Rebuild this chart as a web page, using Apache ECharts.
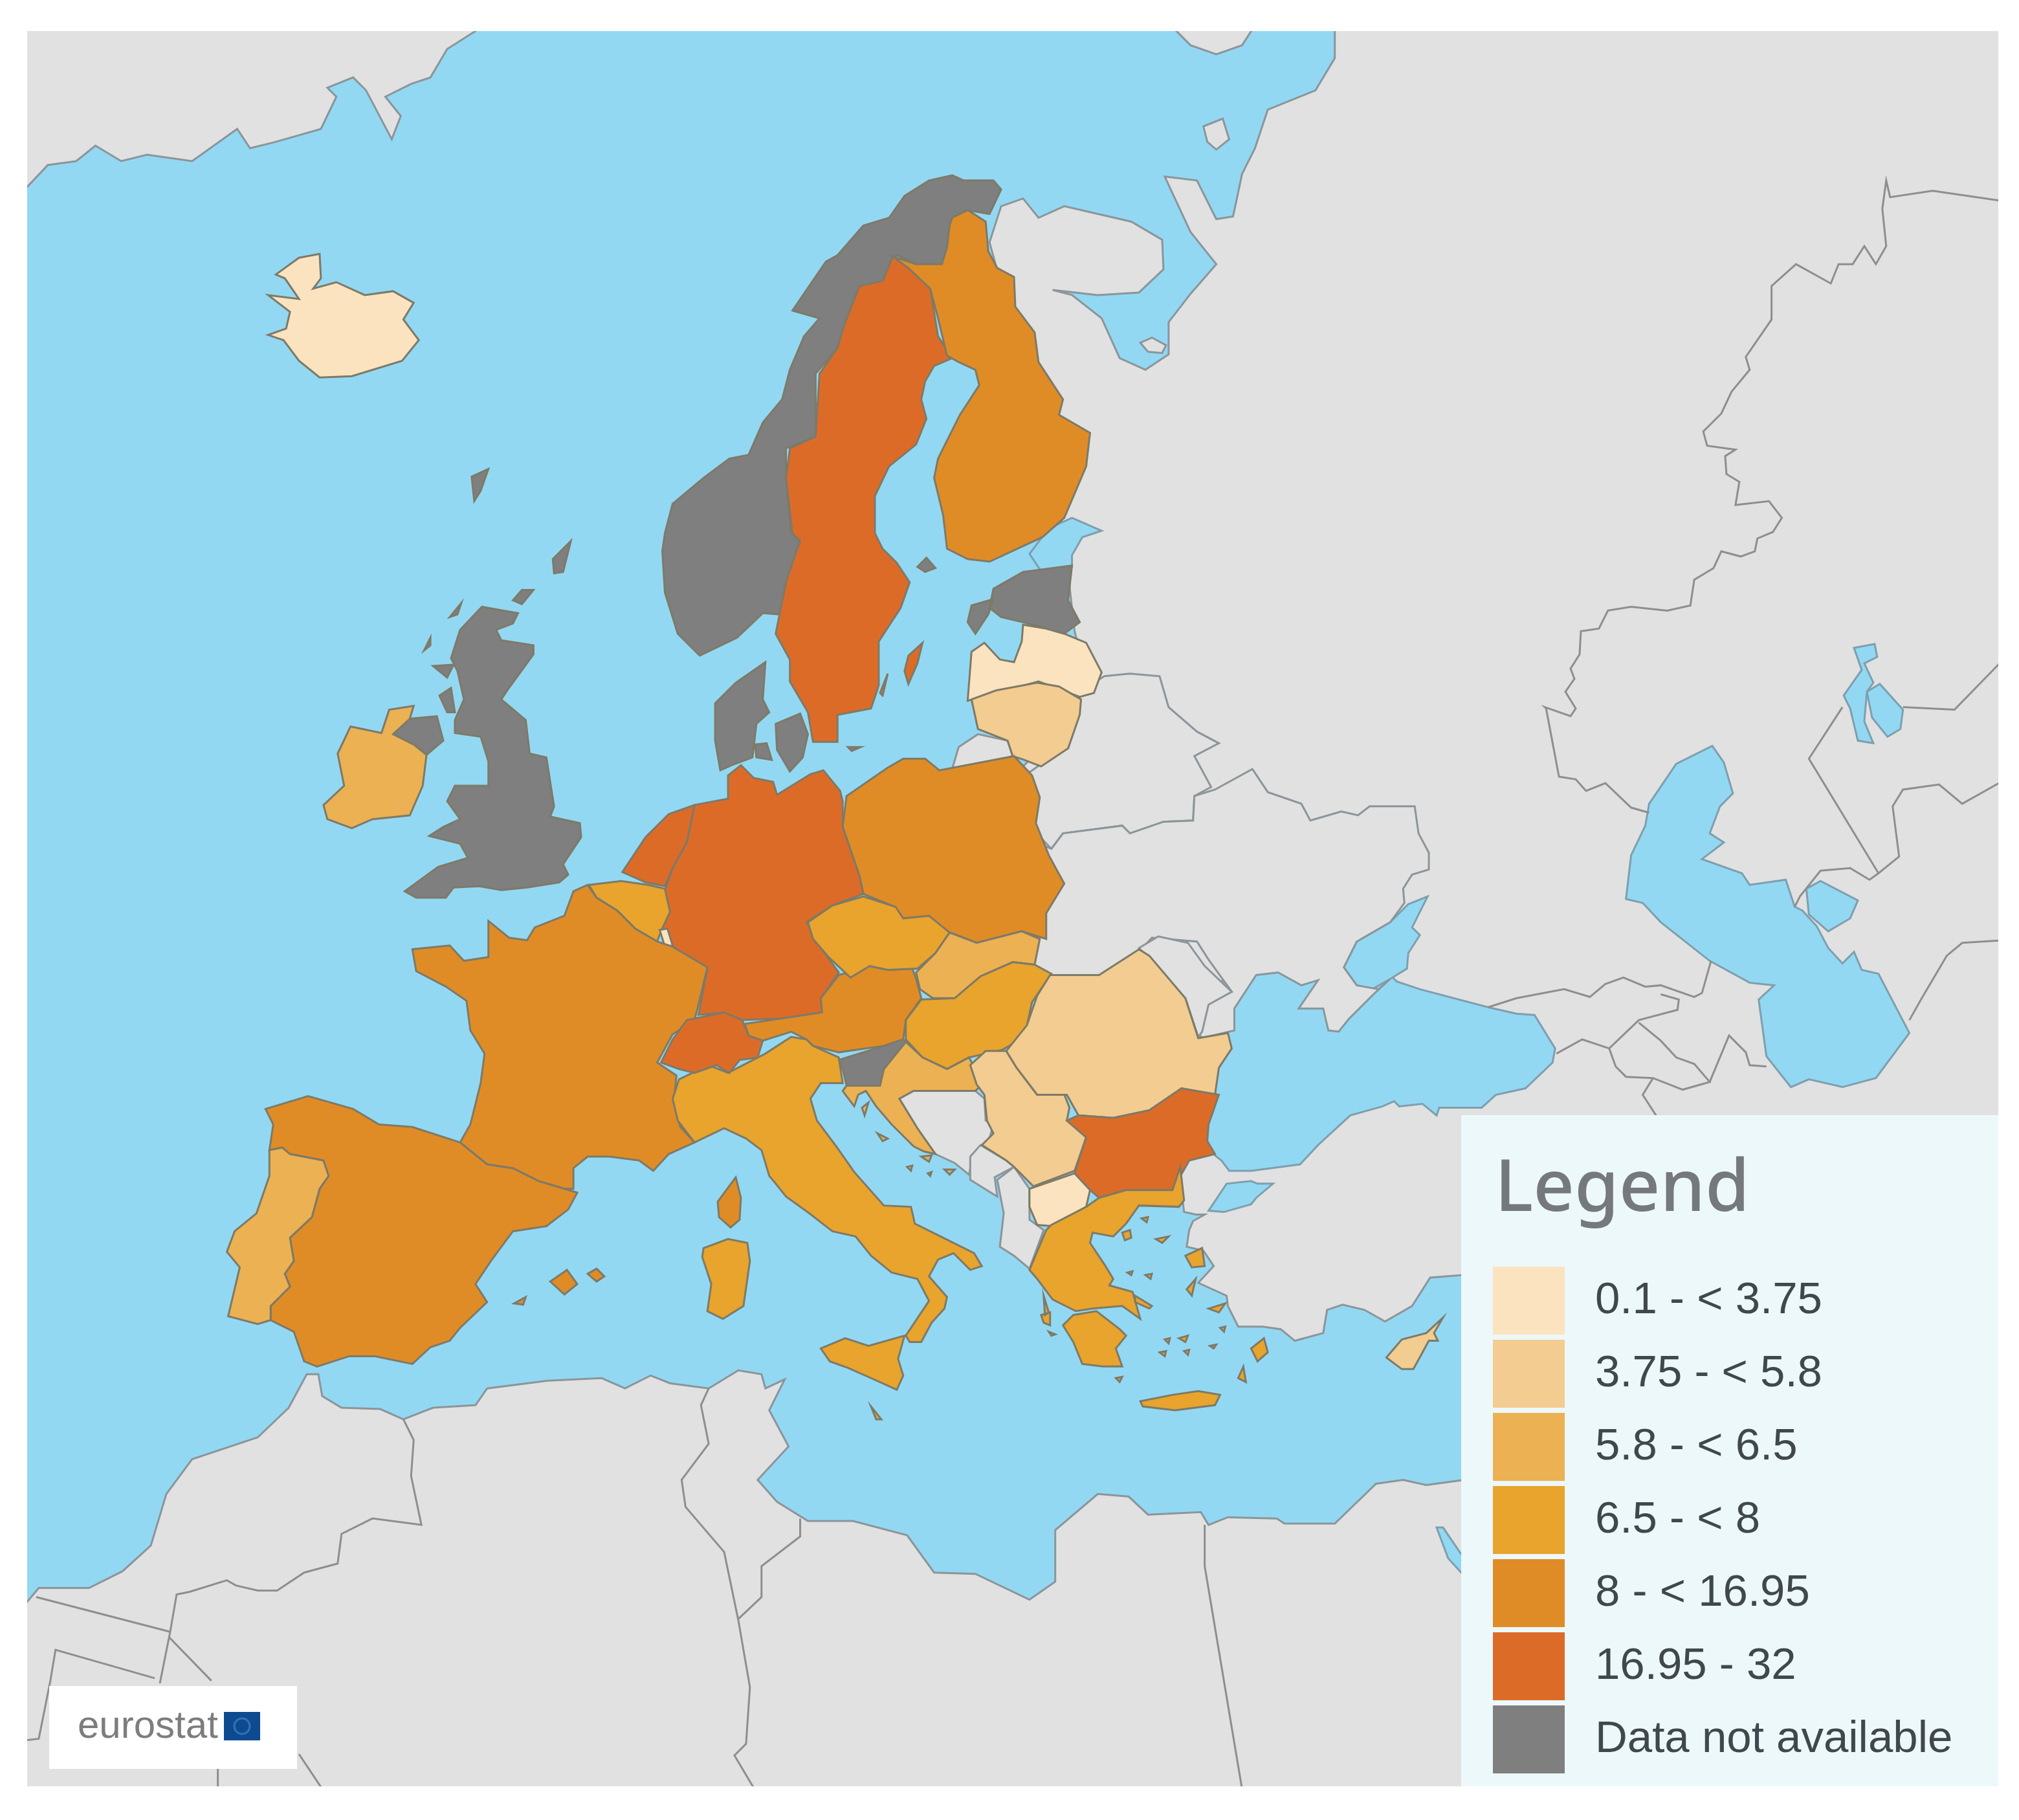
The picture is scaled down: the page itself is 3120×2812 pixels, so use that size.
<!DOCTYPE html>
<html>
<head>
<meta charset="utf-8">
<title>Eurostat map</title>
<style>html,body{margin:0;padding:0;background:#fff}#chart{width:3120px;height:2812px}</style>
<script src="https://cdn.jsdelivr.net/npm/echarts@6/dist/echarts.min.js"></script>
</head>
<body>
<div id="chart"></div>
<script>
// values per country, estimated from the class each one is coloured with
const countries = ['Iceland','Ireland','Sweden','Finland','Latvia','Lithuania','Germany','Netherlands','Belgium','Luxembourg','France','Spain','Portugal','Switzerland','Italy','Austria','Czechia','Slovakia','Hungary','Poland','Croatia','Romania','Serbia','Bulgaria','North Macedonia','Greece','Cyprus','Malta'];
const rates = [2.5,6.1,28,12,2.5,4.5,22,18,7,1.5,10.5,11,6,19,7.2,12,7,6.2,7.4,9.5,6.1,5,4.5,17.5,0.5,7.5,5,7];
const noData = ['Norway','United Kingdom','Denmark','Estonia','Slovenia','Aland'];
const noDataCode = 999;

const legendLabels = ['0.1 - < 3.75','3.75 - < 5.8','5.8 - < 6.5','6.5 - < 8','8 - < 16.95','16.95 - 32','Data not available'];
const legendFrom = [0.1,3.75,5.8,6.5,8,16.95];
const legendTo = [3.75,5.8,6.5,8,16.95,32];
const legendColors = ['#fbe3bf','#f2cc90','#ecb152','#e8a42c','#e08c26','#dd6b28','#7f7f7f'];

// outlines, in the coordinates of the source picture at half size
const seas = {
    'Sea': ['15,15 1560,15 1560,1395 15,1395'],
    'Black Sea': ['965,750 1030,745 1075,752 1085,762 1103,768 1156,782 1178,787 1192,788 1208,814 1206,825 1185,845 1162,850 1151,860 1118,860 1116,866 1105,857 1087,859 1083,855 1074,859 1049,866 1024,889 1010,904 972,909 955,909 949,901 935,890 930,850 945,800 950,760'],
    'Azov': ['1109,696 1097,720 1103,726 1094,740 1093,752 1080,760 1066,768 1054,765 1044,751 1054,731 1080,716 1094,702'],
    'Caspian': ['1330,579 1339,592 1346,616 1336,626 1328,647 1339,654 1322,667 1353,678 1359,687 1387,683 1394,704 1400,707 1411,719 1420,736 1431,748 1440,739 1446,753 1459,756 1483,802 1457,837 1431,844 1405,838 1391,844 1372,820 1366,776 1378,765 1359,763 1328,746 1290,716 1276,701 1263,698 1267,664 1278,641 1281,624 1302,593'],
    'Kara-Bogaz': ['1403,690 1414,684 1443,699 1437,713 1420,723 1405,710'],
    'Aral': ['1450,537 1460,531 1478,551 1476,566 1466,572 1454,557','1440,503 1456,500 1458,510 1448,515 1455,530 1450,537 1448,560 1455,577 1443,575 1437,550 1432,540 1446,520'],
    'Marmara': ['939,940 953,919 972,917 977,919 989,919 976,930 972,935 951,941'],
    'Gulf of Finland': ['815,410 833,402 856,412 841,417 833,431 833,440 810,445 800,430'],
    'Red Sea': ['1116,1186 1121,1186 1136,1208 1136,1222 1125,1210']
};
const lands = {
    'Greenland': ['15,15 370,15 370,24 348,38 335,60 320,65 300,75 312,90 305,108 285,70 275,60 255,68 262,75 250,100 215,110 195,115 185,100 150,125 115,120 95,125 75,113 60,125 38,128 22,145 15,150'],
    'Novaya Zemlya': ['905,15 978,15 965,35 945,42 925,35'],
    'East': ['1037,15 1560,15 1560,1395 1136,1395 1136,990 1111,992 1097,1014 1076,1026 1060,1017 1043,1013 1031,1017 1028,1035 1006,1041 995,1032 981,1030 962,1030 954,1014 953,1006 931,996 943,983 935,971 922,968 924,955 927,948 936,943 929,943 920,941 915,900 930,885 900,850 850,800 800,755 800,720 790,600 820,570 845,530 835,490 830,445 825,405 800,300 775,210 769,188 778,160 795,154 807,169 827,160 879,172 903,186 904,209 885,227 853,229 818,225 833,229 856,247 870,278 890,287 908,275 908,250 925,228 945,205 925,180 905,137 930,140 945,170 958,168 965,135 975,115 985,85 1022,70 1037,45'],
    'Africa': ['15,1252 31,1233 70,1233 96,1220 118,1200 130,1160 150,1133 201,1116 225,1093 239,1067 248,1067 251,1084 266,1093 296,1094 314,1102 337,1093 370,1091 379,1078 426,1072 468,1070 486,1078 506,1068 521,1074 551,1078 574,1064 592,1067 595,1078 610,1071 598,1095 613,1123 589,1149 604,1166 628,1181 663,1181 705,1192 726,1221 758,1222 800,1242 820,1228 820,1188 853,1160 877,1162 892,1176 933,1174 939,1184 954,1178 992,1179 998,1183 1037,1183 1069,1152 1090,1149 1108,1153 1130,1150 1145,1148 1145,1395 15,1395'],
    'Kolguev': ['935,98 950,92 955,108 945,116 938,110'],
    'Solovetsky': ['886,266 895,262 906,268 903,274 892,273'],
    'Belarus': ['858,525 878,523 901,525 908,549 930,568 947,577 928,587 941,611 928,618 927,637 904,638 878,647 872,641 826,647 817,659 800,641 800,620 798,601 825,582 835,555 835,545 850,530'],
    'Ukraine': ['817,659 826,647 872,641 878,647 904,638 927,637 928,618 944,613 973,597 985,615 1011,624 1018,637 1042,630 1055,633 1064,626 1099,626 1102,647 1110,662 1110,675 1097,679 1090,690 1091,701 1080,716 1054,731 1044,751 1054,765 1071,768 1080,760 1068,771 1048,791 1040,801 1032,800 1028,783 1009,783 1024,761 1011,765 993,755 976,757 959,783 959,800 934,806 930,800 937,777 957,770 939,745 930,731 895,728 884,740 858,760 815,760 800,751 805,728 820,687 810,656'],
    'Moldova': ['885,736 900,727 923,732 936,750 957,770 939,780 934,801 931,805 921,775'],
    'Kaliningrad': ['745,580 760,570 783,575 787,587 770,592 740,597'],
    'Bosnia': ['699,853 710,847 730,847 758,847 765,853 766,870 772,873 768,887 756,899 753,912 742,903 727,896 713,876'],
    'Montenegro': ['754,898 762,889 782,901 788,906 773,914 775,929 754,916'],
    'Albania': ['775,916 788,906 800,923 800,947 811,955 800,985 788,975 777,968 780,942']
};
// frontiers between grey countries, drawn as open lines
const frontiers = [
    '1556,156 1501,148 1468,153 1465,140 1462,162 1465,191 1457,205 1448,191 1439,205 1428,205 1422,220 1395,205 1376,222 1376,248 1356,277 1359,287 1345,304 1337,321 1323,335 1326,346 1348,349 1340,354 1341,368 1351,374 1348,392 1374,389 1384,402 1377,413 1365,418 1363,428 1352,432 1337,428 1331,441 1316,450 1313,470 1295,474 1267,471 1249,474 1242,488 1228,490 1227,508 1220,519 1223,527 1216,537 1224,550 1220,556 1200,549 1201,550 1211,603 1224,605 1232,614 1247,608 1267,627 1281,631',
    '1431,549 1405,589 1459,678',
    '1478,549 1518,551 1551,517 1556,512',
    '1394,704 1398,696 1414,676 1437,674 1452,683 1459,678 1475,665 1470,626 1478,613 1506,609 1524,624 1556,606',
    '1483,792 1492,776 1512,742 1524,732 1556,730',
    '1156,782 1178,775 1215,768 1235,774 1247,764 1261,759 1278,766 1290,765 1316,774 1322,771 1329,746',
    '1209,818 1229,807 1250,814 1273,792 1303,784 1304,776 1290,772',
    '1250,814 1255,828 1263,836 1284,837 1307,846 1328,840 1316,826 1302,821 1290,808 1273,794',
    '1328,840 1343,804 1356,817 1359,827 1372,828',
    '1284,837 1276,850 1287,867',
    '314,1102 322,1118 320,1146 328,1184 290,1179 266,1191 263,1214 237,1221 216,1235 201,1235 184,1231 177,1227 148,1236 138,1238 133,1267 125,1307',
    '29,1240 133,1267',
    '132,1271 165,1305',
    '15,1352 31,1350 40,1305 44,1281 121,1303',
    '170,1365 170,1395',
    '233,1362 255,1395',
    '551,1078 545,1091 551,1121 530,1149 533,1170 563,1205 574,1258 583,1310 580,1354 571,1363 590,1395',
    '622,1179 622,1193 592,1216 592,1240 574,1257',
    '936,1184 936,1216 966,1395'
];
const shapes = {
    'Iceland': ['209,229 233,232 222,216 215,213 233,200 249,197 250,216 244,224 262,219 284,229 306,226 322,235 314,248 326,264 313,280 274,292 249,293 233,280 221,264 209,260 223,255 226,242'],
    'Norway': ['517,414 523,391 547,371 567,356 582,353 593,328 608,310 614,287 625,261 637,247 616,241 642,203 651,198 671,175 691,169 703,152 722,140 740,136 749,140 772,140 778,147 769,166 751,163 738,175 736,192 732,205 712,205 697,198 686,218 668,222 657,250 651,270 634,290 634,339 611,348 611,371 615,414 622,420 618,431 611,452 606,477 593,476 573,495 544,509 527,492 517,460 515,428'],
    'Sweden': ['694,199 686,218 668,222 657,250 651,270 637,290 634,339 614,348 611,371 616,414 622,420 618,431 611,452 606,477 603,492 614,512 614,529 628,553 632,576 651,576 651,555 677,550 683,532 683,498 700,472 707,452 697,437 686,426 680,414 680,385 691,362 712,345 720,325 716,310 719,296 726,284 740,278 729,261 723,224 706,208','706,509 717,499 713,515 706,531 703,521','690,523 684,538 686,540'],
    'Finland': ['740,169 752,163 766,172 768,195 775,208 788,215 789,238 804,258 807,281 826,310 823,322 847,336 844,362 827,402 810,417 769,436 752,434 736,426 733,400 726,371 729,356 746,322 761,299 758,287 745,281 736,276 729,247 723,224 706,208 694,199 712,205 732,205 736,192 738,175'],
    'Aland': ['713,440 720,433 727,441 719,444'],
    'Estonia': ['772,457 795,444 833,439 830,466 839,483 827,492 813,488 795,483 778,479 769,472','755,470 772,465 768,477 758,492 752,483'],
    'Latvia': ['755,506 765,499 777,512 788,514 794,498 795,485 813,488 827,492 844,499 856,522 850,538 839,541 807,529 778,537 752,544'],
    'Lithuania': ['755,543 774,536 806,530 823,533 840,543 839,555 830,581 809,595 796,590 787,587 783,575 760,566'],
    'Denmark': ['556,575 556,546 572,530 595,514 593,543 598,553 588,562 585,588 569,594 560,598','603,562 622,554 628,570 624,588 614,599 604,582','587,578 596,577 600,590 588,588','659,580 669,580 662,583'],
    'United Kingdom': ['375,471 403,476 399,484 386,489 390,497 415,501 415,508 396,534 390,543 409,559 412,585 425,588 431,626 428,634 451,639 452,650 438,671 442,679 435,685 410,689 390,691 373,688 353,689 347,697 324,697 315,692 341,673 364,666 358,655 334,649 345,642 358,636 348,622 354,610 380,610 380,591 374,572 354,569 354,559 361,543 356,521 351,511 358,489','306,570 319,558 340,556 345,575 332,586 322,578','350,479 359,468 356,477','330,505 335,495 335,501','430,434 444,420 438,444 431,445','399,466 406,458 415,458 406,469','367,370 380,364 374,381 369,389','337,517 353,516 348,526','342,540 351,534 354,553 348,553'],
    'Ireland': ['252,625 268,610 263,585 273,564 297,569 303,551 322,548 319,558 306,570 322,578 332,586 329,610 319,633 290,636 274,643 255,636'],
    'Poland': ['658,618 690,596 702,589 719,589 730,598 788,587 802,602 808,619 805,639 815,664 827,686 813,709 813,729 794,723 759,732 736,723 722,711 702,713 693,703 671,694 668,680 655,642'],
    'Germany': ['566,602 576,594 586,604 601,607 604,617 630,601 640,598 653,614 655,622 655,642 668,680 671,694 647,703 627,716 641,740 652,755 638,775 639,786 606,791 577,792 563,786 543,788 550,752 530,740 520,732 514,723 514,700 523,674 534,654 540,625 566,620'],
    'Netherlands': ['484,677 502,650 520,632 540,625 534,654 523,674 517,688 502,685'],
    'Belgium': ['458,687 483,684 504,687 517,690 521,708 514,723 511,731 494,721 480,707 464,697'],
    'Luxembourg': ['513,722 519,721 523,734 517,735'],
    'France': ['446,692 457,687 464,697 480,707 494,721 511,731 523,735 550,751 543,780 540,792 523,803 511,825 526,835 524,855 529,875 540,887 520,896 508,909 497,901 474,898 457,898 446,907 446,923 439,923 419,917 399,907 379,904 358,887 366,873 374,841 377,818 366,800 363,777 347,766 324,754 321,737 350,734 361,746 380,743 380,715 396,728 410,730 416,720 439,711','558,933 572,914 576,930 575,947 568,953 559,945'],
    'Spain': ['207,861 240,851 275,861 295,873 321,875 358,887 379,904 399,907 419,917 439,923 449,926 442,939 425,952 399,956 382,979 370,997 379,1011 358,1031 350,1041 335,1046 321,1059 292,1053 272,1053 247,1061 237,1057 229,1034 211,1025 211,1014 226,999 222,989 229,979 226,961 243,945 249,923 256,913 252,901 226,896 220,891 210,893 213,873','428,995 441,986 449,997 439,1005','457,989 464,985 470,991 464,995','400,1012 409,1007 407,1013'],
    'Portugal': ['210,893 220,891 226,896 252,901 256,913 249,923 243,945 226,961 229,979 222,989 226,999 211,1014 211,1025 201,1028 178,1022 187,984 177,972 183,956 200,942 210,913'],
    'Italy': ['528,838 551,827 566,833 595,818 615,805 627,807 632,812 652,821 655,841 638,841 630,853 635,870 650,890 664,910 687,936 708,937 711,950 731,960 757,973 763,983 754,986 741,973 729,978 722,991 736,1007 734,1016 724,1027 716,1042 707,1042 704,1037 722,1010 713,993 693,988 677,975 665,960 647,956 629,942 611,929 603,919 598,913 592,893 580,884 563,876 540,887 527,870 523,853','638,1047 657,1039 675,1045 703,1037 698,1055 702,1068 697,1079 677,1070 659,1062 645,1057','547,969 566,962 581,965 583,979 578,1014 562,1024 550,1018 553,997 546,976'],
    'Switzerland': ['514,825 523,807 534,792 563,786 577,792 582,804 593,808 589,821 575,823 567,833 557,827 540,833 528,830'],
    'Austria': ['652,757 676,750 690,753 709,752 712,760 716,775 704,792 702,807 687,812 652,817 632,812 627,807 615,801 593,808 582,804 579,795 606,791 639,786 638,775'],
    'Czechia': ['628,716 647,703 671,696 696,704 702,713 722,711 738,724 727,740 713,752 690,753 676,750 661,759 644,743 632,729'],
    'Slovakia': ['738,724 759,732 794,723 808,729 804,749 787,747 762,758 742,775 725,775 715,768 712,755 727,740'],
    'Hungary': ['716,776 742,775 762,758 787,747 804,749 817,756 802,778 797,801 788,810 779,815 753,821 736,830 717,821 704,807 704,792'],
    'Slovenia': ['652,823 687,812 702,807 704,809 687,830 684,843 658,843 655,830'],
    'Croatia': ['687,830 704,809 717,821 736,830 753,821 764,841 758,847 730,847 710,847 699,853 713,876 727,896 718,894 710,890 693,873 681,859 673,847 667,850 664,859 655,847 658,843 684,843','670,860 675,856 672,866','682,880 690,884 686,886','716,898 724,897 722,902','734,908 742,908 738,912','705,906 709,905 708,909','721,911 724,910 723,913'],
    'Serbia': ['754,827 766,816 782,816 790,829 806,850 826,847 831,860 829,870 844,883 835,909 803,921 788,906 782,901 763,889 772,880 767,870 765,850 759,842'],
    'Romania': ['816,757 854,757 885,737 893,742 921,775 931,806 954,802 957,814 947,829 944,850 918,845 893,862 865,868 838,866 829,850 806,850 790,829 782,816 798,796 806,773'],
    'Bulgaria': ['829,870 838,866 865,868 893,862 918,845 947,850 939,873 938,886 944,896 924,901 911,924 875,924 854,930 847,924 835,911 844,883'],
    'North Macedonia': ['800,923 835,911 847,924 844,937 818,952 806,951 800,937'],
    'Greece': ['800,986 813,955 817,951 844,937 854,930 875,924 911,924 917,906 920,932 916,937 885,936 875,950 865,960 849,957 847,965 859,983 865,993 862,998 880,1003 886,1024 872,1014 849,1016 836,1018 818,1009 806,993','826,1029 834,1021 852,1018 870,1032 875,1037 867,1047 872,1061 857,1061 841,1059 834,1042','886,1088 911,1083 931,1080 948,1083 944,1091 913,1095 888,1092','921,975 934,969 936,983 926,984','922,1001 929,993 926,1006','939,1016 952,1012 947,1019','972,1047 982,1039 985,1050 977,1057','962,1070 966,1061 968,1073','872,957 878,955 879,961 874,963','887,946 892,945 891,949','898,962 908,960 903,965','811,1006 815,1019 812,1021','809,1021 816,1019 816,1029 811,1027','815,1034 820,1036 817,1037','882,1006 895,1014 893,1016 882,1011','901,1050 906,1049 905,1053','916,1039 923,1037 921,1042','920,1049 924,1048 923,1052','905,1040 909,1039 908,1043','867,1070 872,1069 870,1073','940,1045 945,1044 943,1047','948,1031 952,1030 951,1034','890,990 895,989 894,993','876,988 880,987 879,990'],
    'Cyprus': ['1077,1054 1089,1040 1108,1035 1121,1023 1114,1035 1117,1041 1110,1041 1098,1063 1089,1063'],
    'Malta': ['677,1092 685,1102 681,1102']
};

const ring = s => s.trim().split(/\s+/).map(p => p.split(',').map(Number));
const feature = (name, rings) => ({
    type: 'Feature',
    properties: { name: name },
    geometry: { type: 'MultiPolygon', coordinates: rings.map(r => [r]) }
});
// an open line is a polygon that walks back along itself
const lineRing = s => { const r = ring(s); return r.concat(r.slice().reverse()); };

const landFirst = ['Greenland','Novaya Zemlya','East','Africa','Kolguev','Solovetsky'];
const seaAfter = Object.keys(seas).filter(n => n !== 'Sea');
const landAfter = Object.keys(lands).filter(n => landFirst.indexOf(n) < 0);

const features = [feature('Sea', seas['Sea'].map(ring))];
landFirst.forEach(n => features.push(feature(n, lands[n].map(ring))));
seaAfter.forEach(n => features.push(feature(n, seas[n].map(ring))));
features.push(feature('Frontiers', frontiers.map(lineRing)));
landAfter.forEach(n => features.push(feature(n, lands[n].map(ring))));
Object.keys(shapes).forEach(n => features.push(feature(n, shapes[n].map(ring))));

echarts.registerMap('europe', { type: 'FeatureCollection', features: features });

const seaStyle = { areaColor: '#93d8f3', borderColor: '#7e9fae', borderWidth: 3 };
const landStyle = { areaColor: '#e1e1e1', borderColor: '#8b959a', borderWidth: 3 };

const mapData = [];
mapData.push({ name: 'Sea', value: '-', itemStyle: { areaColor: '#93d8f3', borderColor: '#93d8f3', borderWidth: 0 } });
seaAfter.forEach(n => mapData.push({ name: n, value: '-', itemStyle: seaStyle }));
Object.keys(lands).forEach(n => mapData.push({ name: n, value: '-', itemStyle: landStyle }));
mapData.push({ name: 'Frontiers', value: '-', itemStyle: { areaColor: '#e1e1e1', borderColor: '#8e8e8e', borderWidth: 3 } });
countries.forEach((n, i) => mapData.push({ name: n, value: rates[i] }));
noData.forEach(n => mapData.push({ name: n, value: noDataCode }));

const pieces = legendFrom.map((from, i) => {
    const piece = { gte: from, label: legendLabels[i], color: legendColors[i] };
    if (i === legendFrom.length - 1) piece.lte = legendTo[i]; else piece.lt = legendTo[i];
    return piece;
});
pieces.push({ value: noDataCode, label: legendLabels[6], color: legendColors[6] });

const chart = echarts.init(document.getElementById('chart'));
chart.setOption({
    backgroundColor: '#ffffff',
    animation: false,
    title: {
        text: 'Legend',
        left: 2310,
        top: 1784,
        padding: 0,
        textStyle: { fontFamily: 'Noto Sans', fontSize: 111, fontWeight: 500, color: '#75797d' }
    },
    visualMap: {
        type: 'piecewise',
        seriesIndex: 0,
        pieces: pieces,
        inverse: true,
        left: 2258,
        top: 1723,
        padding: [234, 71, 20, 49],
        backgroundColor: '#edf8fb',
        itemWidth: 111,
        itemHeight: 105,
        itemGap: 8,
        textGap: 47,
        itemSymbol: 'rect',
        align: 'left',
        selectedMode: false,
        hoverLink: false,
        textStyle: { fontFamily: 'Liberation Sans', fontSize: 69, color: '#40484d', padding: [20, 0, 0, 0] }
    },
    series: [{
        type: 'map',
        map: 'europe',
        projection: { project: p => p, unproject: p => p },
        boundingCoords: [[22, 24], [1552, 1387]],
        aspectScale: 1,
        left: 42,
        top: 48,
        width: 3046,
        height: 2712,
        roam: false,
        silent: true,
        label: { show: false },
        emphasis: { disabled: true },
        select: { disabled: true },
        itemStyle: { borderColor: '#7d7a68', borderWidth: 3 },
        data: mapData
    }],
    graphic: [
        { type: 'rect', z: 90, silent: true, shape: { x: 12, y: 18, width: 3106, height: 2772 }, style: { fill: 'none', stroke: '#ffffff', lineWidth: 60 } },
        { type: 'rect', z: 91, silent: true, shape: { x: 76, y: 2605, width: 383, height: 128 }, style: { fill: '#ffffff' } },
        { type: 'text', z: 92, silent: true, x: 120, y: 2638, style: { text: 'eurostat', fontFamily: 'Liberation Sans', fontSize: 60, fill: '#7d7d7d' } },
        { type: 'rect', z: 92, silent: true, shape: { x: 346, y: 2645, width: 56, height: 44 }, style: { fill: '#0e4a8f' } },
        { type: 'circle', z: 93, silent: true, shape: { cx: 374, cy: 2667, r: 12 }, style: { fill: 'none', stroke: '#2f74b5', lineWidth: 3 } }
    ]
});
</script>
</body>
</html>
